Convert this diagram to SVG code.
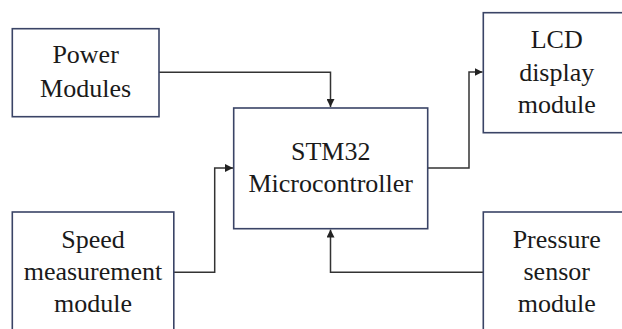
<svg xmlns="http://www.w3.org/2000/svg" width="622" height="329" viewBox="0 0 622 329">
<style>
.box{fill:#fff;stroke:#3a4466;stroke-width:1.6}
.lbl{font-family:'Liberation Serif','Times New Roman','DejaVu Serif',serif;font-size:26px;fill:#1a1a1a;text-anchor:middle}
.con{fill:none;stroke:#333;stroke-width:1.5}
</style>
<defs>
<marker id="arr" viewBox="0 0 10 10" refX="10" refY="5" markerWidth="8" markerHeight="8" markerUnits="userSpaceOnUse" orient="auto">
<path d="M0,0 L10,5 L0,10 Z" fill="#222"/>
</marker>
</defs>
<rect width="622" height="329" fill="#fff"/>
<g id="connectors">
<path class="con" d="M159,72.3 H330.5 V107" marker-end="url(#arr)"/>
<path class="con" d="M427.7,168 H469 V72 H482.5" marker-end="url(#arr)"/>
<path class="con" d="M173.8,272.3 H214.7 V168 H233" marker-end="url(#arr)"/>
<path class="con" d="M483.3,272.3 H330.5 V229.5" marker-end="url(#arr)"/>
</g>
<g id="power">
<rect class="box" x="12.3" y="28.7" width="146.7" height="88"/>
<text class="lbl" font-family="Liberation Serif, serif" x="85.6" y="63.3">Power</text>
<text class="lbl" font-family="Liberation Serif, serif" x="85.6" y="96.7">Modules</text>
</g>
<g id="mcu">
<rect class="box" x="233.7" y="108" width="194" height="120.7"/>
<text class="lbl" x="330.7" y="160">STM32</text>
<text class="lbl" x="330.7" y="191.7">Microcontroller</text>
</g>
<g id="lcd">
<rect class="box" x="483.3" y="12.7" width="150" height="120"/>
<text class="lbl" x="556.7" y="48.3">LCD</text>
<text class="lbl" x="556.7" y="80.5">display</text>
<text class="lbl" x="556.7" y="113">module</text>
</g>
<g id="speed">
<rect class="box" x="12.3" y="212" width="161.5" height="130"/>
<text class="lbl" x="93" y="248">Speed</text>
<text class="lbl" x="93" y="280">measurement</text>
<text class="lbl" x="93" y="311.7">module</text>
</g>
<g id="pressure">
<rect class="box" x="483.3" y="212" width="150" height="130"/>
<text class="lbl" x="556.7" y="248">Pressure</text>
<text class="lbl" x="556.7" y="280">sensor</text>
<text class="lbl" x="556.7" y="311.7">module</text>
</g>
</svg>
